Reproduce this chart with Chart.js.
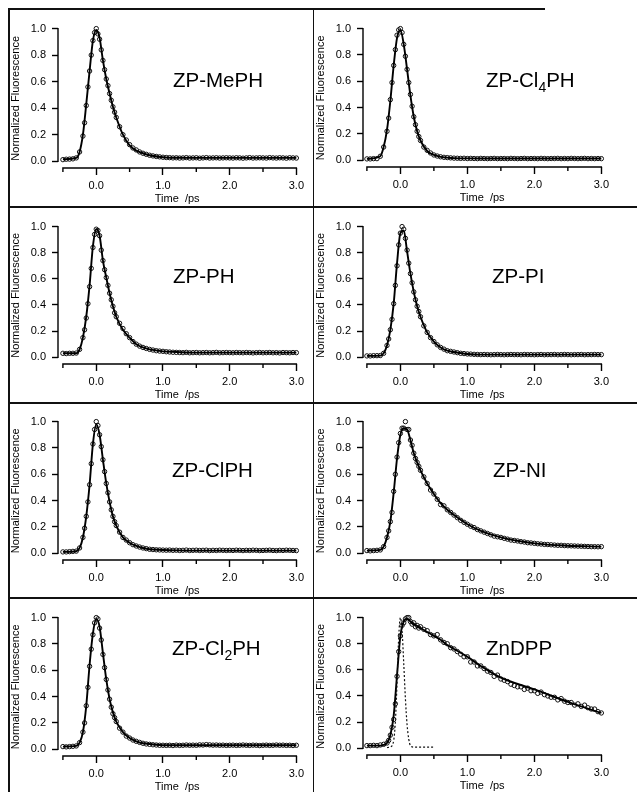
<!DOCTYPE html>
<html><head><meta charset="utf-8">
<script src="https://cdn.jsdelivr.net/npm/chart.js@4.4.1/dist/chart.umd.min.js"></script>
<style>
html,body{margin:0;padding:0;background:#fff;}
#wrap{position:relative;width:637px;height:792px;overflow:hidden;font-family:"Liberation Sans",Arial,sans-serif;}
.ln{position:absolute;background:#111;z-index:3;}
canvas{position:absolute;z-index:1;}
.lbl{position:absolute;font-size:20.5px;line-height:20.5px;color:#000;white-space:nowrap;z-index:2;}
.lbl .sb{font-size:14px;position:relative;top:5px;}
</style></head>
<body><div id="wrap"></div>
<script>
// ---- time axes (ps) ----
const T = [-0.5,-0.45,-0.4,-0.35,-0.3,-0.25,-0.2,
 -0.175,-0.15,-0.125,-0.1,-0.075,-0.05,-0.025,0,0.025,0.05,0.075,0.1,0.125,0.15,0.175,0.2,0.225,0.25,0.275,0.3,
 0.35,0.4,0.45,0.5,0.55,0.6,0.65,0.7,0.75,0.8,0.85,0.9,0.95,1.0,
 1.05,1.1,1.15,1.2,1.25,1.3,1.35,1.4,1.45,1.5,1.55,1.6,1.65,1.7,1.75,1.8,1.85,1.9,1.95,2.0,
 2.05,2.1,2.15,2.2,2.25,2.3,2.35,2.4,2.45,2.5,2.55,2.6,2.65,2.7,2.75,2.8,2.85,2.9,2.95,3.0];
const TF = [-0.5,-0.3,-0.25,-0.2,-0.15,-0.1,-0.05,0,0.05,0.1,0.15,0.2,0.25,0.3,0.4,0.5,0.6,0.7,0.8,1.0,1.2,1.5,2.0,2.5,3.0];
const TI = [-0.2,-0.15,-0.1,-0.075,-0.05,-0.025,0,0.025,0.05,0.075,0.1,0.125,0.15,0.2,0.3,0.4,0.5];

// ---- measured (circles) ----
const cMePH = [0.012,0.015,0.016,0.018,0.025,0.07,0.19,
 0.29,0.42,0.56,0.68,0.80,0.91,0.97,1.0,0.96,0.92,0.84,0.76,0.69,0.62,0.57,0.51,0.46,0.41,0.37,0.33,
 0.26,0.20,0.16,0.125,0.10,0.085,0.07,0.06,0.052,0.045,0.04,0.036,0.033,0.03,
 0.028,0.027,0.025,0.026,0.024,0.025,0.027,0.024,0.025,0.026,0.023,0.025,0.027,0.024,0.025,0.026,0.024,0.025,0.026,0.025,
 0.024,0.026,0.025,0.023,0.025,0.027,0.024,0.025,0.026,0.025,0.024,0.027,0.025,0.024,0.026,0.025,0.023,0.026,0.025,0.024];
const cCl4PH = [0.01,0.01,0.012,0.012,0.03,0.10,0.22,
 0.32,0.46,0.59,0.72,0.84,0.95,0.99,1.0,0.97,0.88,0.79,0.69,0.59,0.50,0.41,0.33,0.27,0.22,0.18,0.15,
 0.10,0.075,0.055,0.04,0.032,0.026,0.022,0.02,0.018,0.016,0.015,0.014,0.015,0.013,
 0.014,0.013,0.012,0.014,0.013,0.012,0.013,0.014,0.012,0.013,0.013,0.012,0.014,0.013,0.012,0.013,0.014,0.012,0.013,0.013,
 0.012,0.014,0.013,0.012,0.013,0.013,0.014,0.012,0.013,0.012,0.014,0.013,0.012,0.013,0.014,0.012,0.013,0.012,0.013,0.012];
const cPH = [0.03,0.028,0.03,0.03,0.032,0.06,0.15,
 0.21,0.30,0.41,0.54,0.68,0.84,0.94,0.98,0.97,0.93,0.82,0.74,0.67,0.61,0.55,0.49,0.44,0.39,0.34,0.31,
 0.26,0.22,0.18,0.15,0.12,0.10,0.085,0.075,0.067,0.06,0.055,0.05,0.047,0.045,
 0.042,0.04,0.038,0.037,0.036,0.035,0.037,0.034,0.035,0.036,0.034,0.035,0.036,0.034,0.035,0.037,0.034,0.035,0.036,0.035,
 0.034,0.036,0.035,0.034,0.036,0.035,0.033,0.035,0.036,0.034,0.035,0.036,0.034,0.035,0.033,0.036,0.035,0.034,0.036,0.035];
const cPI = [0.01,0.01,0.012,0.012,0.013,0.03,0.09,
 0.14,0.21,0.29,0.41,0.55,0.70,0.86,0.95,1.0,0.98,0.91,0.82,0.72,0.64,0.57,0.50,0.44,0.39,0.35,0.31,
 0.24,0.19,0.15,0.12,0.095,0.075,0.062,0.05,0.045,0.04,0.035,0.03,0.028,0.025,
 0.024,0.022,0.021,0.02,0.021,0.02,0.019,0.02,0.021,0.02,0.019,0.02,0.021,0.02,0.02,0.019,0.021,0.02,0.02,0.019,
 0.02,0.021,0.019,0.02,0.02,0.021,0.019,0.02,0.021,0.02,0.019,0.02,0.02,0.021,0.019,0.02,0.02,0.021,0.02,0.02];
const cClPH = [0.01,0.01,0.012,0.014,0.016,0.04,0.12,
 0.19,0.28,0.39,0.52,0.68,0.83,0.94,1.0,0.97,0.90,0.81,0.71,0.62,0.53,0.46,0.39,0.33,0.28,0.24,0.21,
 0.16,0.12,0.10,0.08,0.065,0.055,0.047,0.04,0.035,0.03,0.028,0.026,0.025,0.024,
 0.023,0.024,0.022,0.023,0.021,0.022,0.024,0.021,0.022,0.023,0.021,0.022,0.023,0.02,0.022,0.021,0.023,0.022,0.021,0.022,
 0.021,0.023,0.022,0.02,0.022,0.021,0.023,0.022,0.02,0.021,0.022,0.023,0.021,0.02,0.022,0.021,0.023,0.022,0.021,0.02];
const cNI = [0.02,0.018,0.02,0.022,0.025,0.05,0.12,
 0.17,0.24,0.31,0.47,0.60,0.73,0.84,0.91,0.95,0.95,1.0,0.94,0.94,0.86,0.82,0.76,0.72,0.69,0.66,0.63,
 0.58,0.53,0.48,0.45,0.41,0.37,0.36,0.33,0.31,0.29,0.27,0.25,0.235,0.22,
 0.205,0.195,0.18,0.17,0.16,0.15,0.14,0.13,0.125,0.12,0.113,0.107,0.10,0.097,0.093,0.088,0.085,0.08,0.078,0.075,
 0.072,0.07,0.067,0.066,0.064,0.062,0.06,0.06,0.058,0.057,0.056,0.055,0.054,0.053,0.052,0.051,0.05,0.05,0.049,0.05];
const cCl2PH = [0.02,0.018,0.02,0.022,0.025,0.05,0.13,
 0.20,0.33,0.47,0.63,0.76,0.87,0.96,1.0,0.99,0.92,0.83,0.72,0.62,0.53,0.45,0.38,0.32,0.27,0.24,0.21,
 0.16,0.13,0.10,0.085,0.07,0.06,0.052,0.045,0.04,0.037,0.034,0.032,0.03,0.03,
 0.029,0.03,0.028,0.031,0.029,0.03,0.032,0.03,0.031,0.03,0.033,0.032,0.035,0.033,0.031,0.032,0.03,0.031,0.029,0.03,
 0.031,0.029,0.03,0.032,0.03,0.029,0.031,0.03,0.028,0.03,0.031,0.029,0.03,0.032,0.03,0.031,0.029,0.03,0.028,0.03];
const cZnDPP = [0.02,0.02,0.022,0.02,0.025,0.03,0.04,
 0.06,0.10,0.16,0.22,0.34,0.55,0.74,0.86,0.94,0.96,0.99,1.0,1.0,0.97,0.95,0.96,0.93,0.94,0.92,0.93,
 0.91,0.90,0.87,0.86,0.87,0.83,0.81,0.80,0.77,0.76,0.74,0.72,0.70,0.70,
 0.66,0.66,0.63,0.63,0.61,0.59,0.58,0.55,0.56,0.53,0.52,0.51,0.49,0.48,0.47,0.47,0.45,0.46,0.44,0.44,
 0.42,0.43,0.41,0.40,0.39,0.39,0.37,0.38,0.36,0.35,0.35,0.33,0.34,0.32,0.33,0.31,0.30,0.30,0.28,0.27];

// ---- fits (solid lines) ----
const fMePH  = [0.015,0.025,0.07,0.20,0.43,0.68,0.91,0.99,0.93,0.76,0.62,0.51,0.41,0.33,0.20,0.12,0.08,0.06,0.045,0.03,0.026,0.025,0.025,0.025,0.025];
const fCl4PH = [0.01,0.03,0.10,0.23,0.45,0.72,0.93,0.99,0.88,0.69,0.49,0.33,0.22,0.15,0.07,0.04,0.025,0.02,0.016,0.014,0.013,0.013,0.013,0.013,0.013];
const fPH    = [0.03,0.03,0.06,0.15,0.31,0.55,0.85,0.98,0.93,0.74,0.61,0.49,0.39,0.31,0.21,0.15,0.10,0.075,0.06,0.045,0.04,0.035,0.035,0.035,0.035];
const fPI    = [0.01,0.012,0.03,0.09,0.21,0.41,0.72,0.95,0.97,0.81,0.64,0.50,0.39,0.31,0.19,0.12,0.075,0.05,0.04,0.025,0.02,0.02,0.02,0.02,0.02];
const fClPH  = [0.01,0.015,0.04,0.12,0.28,0.52,0.83,0.98,0.90,0.71,0.53,0.39,0.28,0.21,0.12,0.08,0.055,0.04,0.03,0.025,0.022,0.02,0.02,0.02,0.02];
const fNI    = [0.02,0.025,0.05,0.12,0.24,0.46,0.72,0.90,0.95,0.94,0.86,0.76,0.69,0.63,0.53,0.45,0.38,0.33,0.29,0.22,0.17,0.12,0.075,0.057,0.05];
const fCl2PH = [0.02,0.025,0.05,0.13,0.33,0.64,0.88,0.99,0.93,0.73,0.53,0.38,0.28,0.21,0.13,0.085,0.06,0.045,0.04,0.03,0.03,0.03,0.03,0.03,0.03];
const fZnDPP = [0.02,0.02,0.025,0.04,0.10,0.25,0.56,0.86,0.97,0.99,0.97,0.95,0.935,0.92,0.89,0.86,0.83,0.79,0.76,0.70,0.63,0.54,0.45,0.355,0.27];

// ---- instrument response (dashed, ZnDPP) ----
const irfZnDPP = [0.005,0.01,0.06,0.2,0.5,0.85,1.0,0.9,0.65,0.38,0.18,0.07,0.02,0.008,0.008,0.008,0.008];

const panelNames = ['ZP-MePH','ZP-Cl4PH','ZP-PH','ZP-PI','ZP-ClPH','ZP-NI','ZP-Cl2PH','ZnDPP'];
const panelHtml = ['ZP-MePH','ZP-Cl<span class="sb">4</span>PH','ZP-PH','ZP-PI','ZP-ClPH','ZP-NI','ZP-Cl<span class="sb">2</span>PH','ZnDPP'];
const circleSets = [cMePH,cCl4PH,cPH,cPI,cClPH,cNI,cCl2PH,cZnDPP];
const fitSets = [fMePH,fCl4PH,fPH,fPI,fClPH,fNI,fCl2PH,fZnDPP];
const xLabel = 'Time  /ps';
const yLabel = 'Normalized Fluorescence';

// ---- layout ----
const layout = [
 {col:0,y1:24,y0:161,tx:173,ty:87},
 {col:1,y1:24,y0:160,tx:486,ty:87},
 {col:0,y1:222,y0:357,tx:173,ty:283},
 {col:1,y1:222,y0:357,tx:492,ty:283},
 {col:0,y1:417,y0:553,tx:172,ty:477},
 {col:1,y1:417,y0:553,tx:493,ty:477},
 {col:0,y1:613,y0:749,tx:172,ty:655},
 {col:1,y1:613,y0:748,tx:486,ty:655}];
const cols = [{left:8,axisX:58,gap:5,right:301},{left:313,axisX:363,gap:4,right:608}];

Chart.defaults.font.family = '"Liberation Sans", Arial, sans-serif';
Chart.defaults.color = '#000';

const wrap = document.getElementById('wrap');
function addLine(l,t,w,h){const d=document.createElement('div');d.className='ln';d.style.cssText=`left:${l}px;top:${t}px;width:${w}px;height:${h}px`;wrap.appendChild(d);}
addLine(8,8,537,1.5);
addLine(8,8,1.5,784);
addLine(312.5,8,1.5,784);
addLine(8,206,629,1.5);
addLine(8,402,629,1.5);
addLine(8,597,629,1.5);

const isMajor = v => Math.abs(v - Math.round(v)) < 1e-6;

const axesPlugin = {
 id:'igorAxes',
 afterDraw(chart){
  const {ctx, chartArea:ca, scales:{x,y}} = chart;
  ctx.save();
  ctx.strokeStyle='#000'; ctx.lineWidth=1.4;
  ctx.beginPath();
  ctx.moveTo(ca.left, y.getPixelForValue(0)+0.7); ctx.lineTo(ca.left, y.getPixelForValue(1)-0.7);
  ctx.moveTo(x.getPixelForValue(-0.5)-0.7, ca.bottom); ctx.lineTo(x.getPixelForValue(3)+0.7, ca.bottom);
  x.ticks.forEach(t=>{ if(!isMajor(t.value)){ const px=x.getPixelForValue(t.value); ctx.moveTo(px,ca.bottom); ctx.lineTo(px,ca.bottom+4);} });
  ctx.stroke();
  ctx.restore();
 }
};

panelNames.forEach((name,i)=>{
 const L = layout[i], C = cols[L.col];
 const padTop = 8, xH = 38, yW = C.axisX - C.left;
 const plotW = C.right - C.axisX;
 const ppu = (plotW - C.gap)/3.5;
 const xMin = -0.5 - C.gap/ppu;
 const plotH = (L.y0 + 7) - L.y1;
 const yMin = -7/(L.y0 - L.y1);
 const cw = 300, ch = padTop + plotH + xH;
 const cv = document.createElement('canvas');
 cv.width = cw; cv.height = ch;
 cv.style.left = C.left+'px'; cv.style.top = (L.y1-padTop)+'px';
 cv.style.width = cw+'px'; cv.style.height = ch+'px';
 wrap.appendChild(cv);
 const padRight = C.left + cw - C.right;

 const datasets = [
  {label:name+' data', data: circleSets[i].map((v,k)=>({x:T[k],y:v})), showLine:false,
   pointRadius:2.2, pointBorderWidth:1, pointBorderColor:'#111', pointBackgroundColor:'rgba(255,255,255,0)',
   borderColor:'#111', clip:false, order:2},
  {label:name+' fit', data: fitSets[i].map((v,k)=>({x:TF[k],y:v})), borderColor:'#000', borderWidth:1.9,
   pointRadius:0, cubicInterpolationMode:'monotone', fill:false, clip:false, order:1}
 ];
 if (name === 'ZnDPP') {
  datasets.push({label:'IRF', data: irfZnDPP.map((v,k)=>({x:TI[k],y:v})), borderColor:'#111', borderWidth:1.2,
   borderDash:[2,2], pointRadius:0, cubicInterpolationMode:'monotone', fill:false, clip:false, order:0});
 }

 new Chart(cv, {
  type:'line',
  data:{datasets},
  options:{
   responsive:false, animation:false, events:[],
   layout:{padding:{left:0,right:padRight,top:padTop,bottom:0}},
   plugins:{legend:{display:false}, tooltip:{enabled:false}},
   scales:{
    x:{type:'linear', min:xMin, max:3.0,
     ticks:{stepSize:0.5, includeBounds:false, autoSkip:false, maxRotation:0, padding:4,
      font:{size:11}, color:'#000', callback:v=> isMajor(v) ? Number(v).toFixed(1) : ''},
     grid:{drawOnChartArea:false, drawTicks:true, tickLength:7, tickWidth:1.4,
      tickColor:c=> (c.tick && isMajor(c.tick.value)) ? '#000' : 'rgba(0,0,0,0)'},
     border:{display:false},
     title:{display:true, text:xLabel, font:{size:11}, color:'#000', padding:{top:0,bottom:0}},
     afterFit:s=>{s.height = xH;}
    },
    y:{type:'linear', min:yMin, max:1.0,
     ticks:{stepSize:0.2, includeBounds:false, padding:6, font:{size:11}, color:'#000',
      callback:v=> Number(v).toFixed(1)},
     grid:{drawOnChartArea:false, drawTicks:true, tickLength:6, tickWidth:1.4, tickColor:'#000'},
     border:{display:false},
     title:{display:true, text:yLabel, font:{size:11}, color:'#000', padding:{top:1,bottom:0}},
     afterFit:s=>{s.width = yW;}
    }
   }
  },
  plugins:[axesPlugin]
 });

 const t = document.createElement('div');
 t.className='lbl';
 t.innerHTML = panelHtml[i];
 t.style.left = L.tx+'px';
 t.style.top = (L.ty-17)+'px';
 wrap.appendChild(t);
});
</script>
</body></html>
